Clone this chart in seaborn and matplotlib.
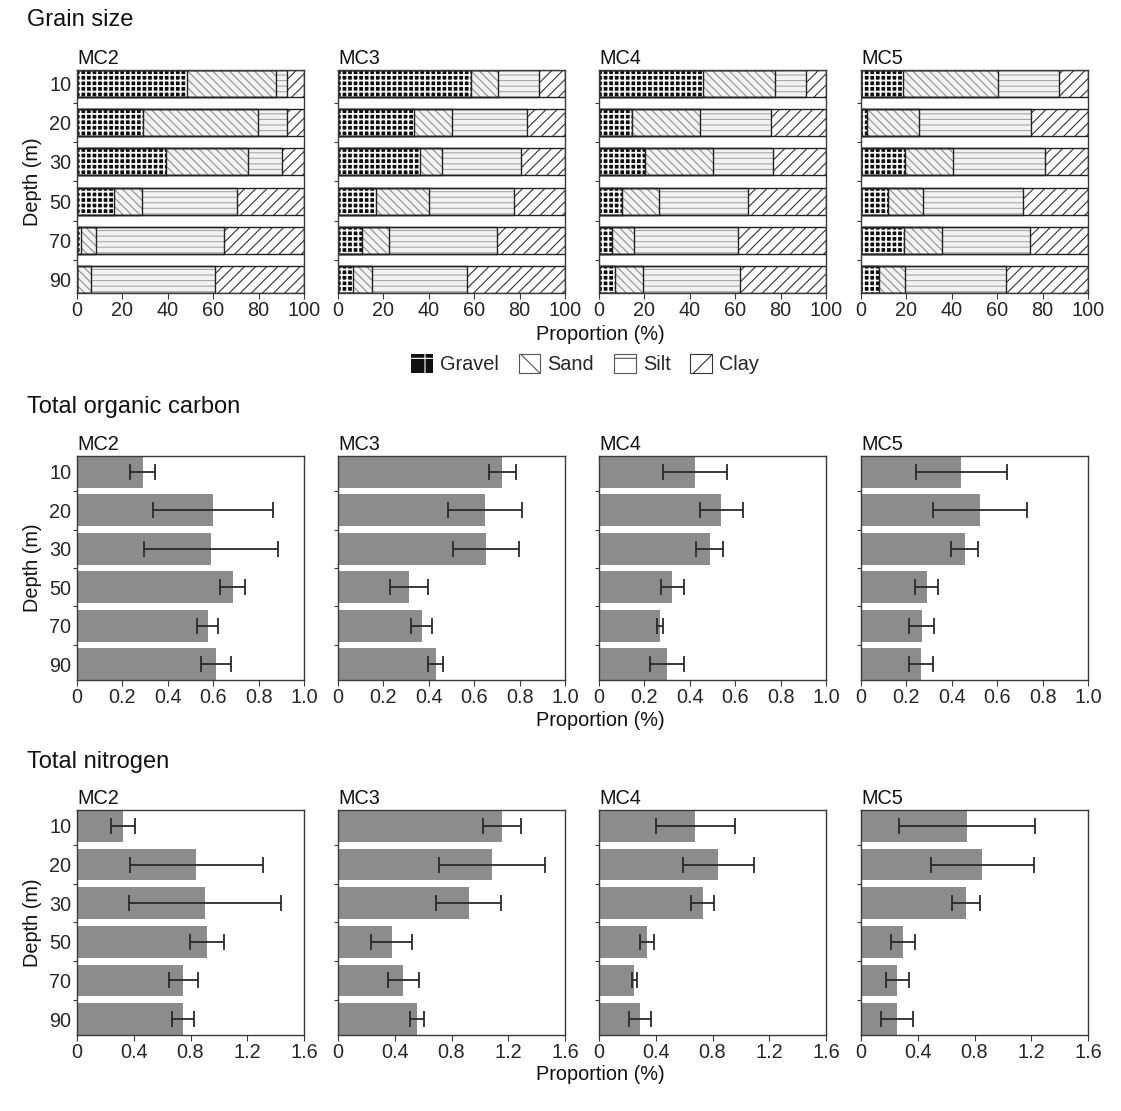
import numpy as np
import pandas as pd
import matplotlib
matplotlib.use("Agg")
import matplotlib.pyplot as plt
import seaborn as sns
from matplotlib.patches import Patch
from matplotlib.ticker import FixedLocator

sns.set_theme(style="ticks")
plt.rcParams["font.family"] = ["Liberation Sans", "DejaVu Sans"]
plt.rcParams["hatch.linewidth"] = 0.8

# ---------------- data ----------------
depths = ["10", "20", "30", "50", "70", "90"]
cores = ["MC2", "MC3", "MC4", "MC5"]

gravel_mc2 = [48.5, 29.0, 39.3, 16.2, 1.9, 0.0]
sand_mc2 = [39.0, 50.7, 36.0, 12.3, 6.3, 6.3]
silt_mc2 = [4.9, 12.7, 15.2, 41.8, 56.5, 54.4]
clay_mc2 = [7.6, 7.6, 9.5, 29.7, 35.3, 39.3]

gravel_mc3 = [58.6, 33.4, 36.3, 16.9, 10.7, 6.8]
sand_mc3 = [11.8, 16.8, 9.4, 23.2, 11.9, 8.1]
silt_mc3 = [18.3, 33.2, 34.8, 37.6, 47.4, 41.8]
clay_mc3 = [11.3, 16.6, 19.5, 22.3, 30.0, 43.3]

gravel_mc4 = [45.7, 14.5, 20.4, 10.1, 5.6, 7.2]
sand_mc4 = [31.9, 29.9, 29.7, 16.5, 9.8, 12.3]
silt_mc4 = [13.7, 31.4, 26.6, 39.2, 45.9, 42.8]
clay_mc4 = [8.7, 24.2, 23.3, 34.2, 38.7, 37.7]

gravel_mc5 = [18.6, 2.8, 19.4, 11.9, 18.9, 7.9]
sand_mc5 = [41.6, 22.8, 21.0, 15.3, 16.9, 11.6]
silt_mc5 = [26.9, 49.4, 40.5, 44.0, 38.6, 44.4]
clay_mc5 = [12.9, 25.0, 19.1, 28.8, 25.6, 36.1]

toc_mc2 = [0.29, 0.60, 0.59, 0.686, 0.575, 0.612]
toc_err_mc2 = [0.055, 0.265, 0.297, 0.055, 0.048, 0.066]
toc_mc3 = [0.723, 0.647, 0.653, 0.313, 0.369, 0.430]
toc_err_mc3 = [0.059, 0.164, 0.146, 0.084, 0.047, 0.032]
toc_mc4 = [0.424, 0.538, 0.487, 0.323, 0.268, 0.300]
toc_err_mc4 = [0.140, 0.095, 0.060, 0.050, 0.012, 0.075]
toc_mc5 = [0.442, 0.524, 0.456, 0.290, 0.268, 0.265]
toc_err_mc5 = [0.200, 0.207, 0.059, 0.050, 0.055, 0.054]

tn_mc2 = [0.324, 0.841, 0.905, 0.914, 0.750, 0.750]
tn_err_mc2 = [0.086, 0.467, 0.535, 0.121, 0.104, 0.077]
tn_mc3 = [1.158, 1.085, 0.921, 0.378, 0.461, 0.557]
tn_err_mc3 = [0.133, 0.375, 0.228, 0.144, 0.108, 0.047]
tn_mc4 = [0.68, 0.84, 0.73, 0.34, 0.25, 0.29]
tn_err_mc4 = [0.28, 0.25, 0.08, 0.05, 0.02, 0.08]
tn_mc5 = [0.746, 0.856, 0.739, 0.294, 0.256, 0.256]
tn_err_mc5 = [0.480, 0.360, 0.097, 0.086, 0.080, 0.114]

grain = {
    "MC2": (gravel_mc2, sand_mc2, silt_mc2, clay_mc2),
    "MC3": (gravel_mc3, sand_mc3, silt_mc3, clay_mc3),
    "MC4": (gravel_mc4, sand_mc4, silt_mc4, clay_mc4),
    "MC5": (gravel_mc5, sand_mc5, silt_mc5, clay_mc5),
}
toc = {"MC2": (toc_mc2, toc_err_mc2), "MC3": (toc_mc3, toc_err_mc3),
       "MC4": (toc_mc4, toc_err_mc4), "MC5": (toc_mc5, toc_err_mc5)}
tn = {"MC2": (tn_mc2, tn_err_mc2), "MC3": (tn_mc3, tn_err_mc3),
      "MC4": (tn_mc4, tn_err_mc4), "MC5": (tn_mc5, tn_err_mc5)}

# ---------------- layout ----------------
W, H = 1121, 1111
fig = plt.figure(figsize=(W / 100, H / 100), dpi=100)
fig.patch.set_facecolor("white")

lefts_px = [77, 338, 599, 861]
width_px = 227
rows_px = {"grain": (70, 293), "toc": (456, 680), "tn": (810, 1035)}

FS = 14.3
SPINE = "#3a3a3a"
BAR_GREY = "#8c8c8c"


def make_ax(i, key):
    top, bot = rows_px[key]
    return fig.add_axes([lefts_px[i] / W, 1 - bot / H, width_px / W, (bot - top) / H])


def style_ax(ax, i, xticks, xticklabels, width):
    ax.set_ylim(5 + width / 2, -width / 2)
    ax.set_yticks(range(6))
    ax.yaxis.set_minor_locator(FixedLocator([0.5, 1.5, 2.5, 3.5, 4.5]))
    ax.tick_params(axis="y", which="major", length=0, labelsize=FS, pad=4,
                   labelleft=(i == 0))
    ax.tick_params(axis="y", which="minor", length=3, width=0.8, color=SPINE, direction="out")
    ax.set_xticks(xticks)
    ax.set_xticklabels(xticklabels)
    ax.tick_params(axis="x", which="major", length=4, width=0.8, color=SPINE,
                   labelsize=FS, pad=2, direction="out")
    ax.set_xlabel("")
    ax.set_ylabel("")
    for s in ax.spines.values():
        s.set_color(SPINE)
        s.set_linewidth(1.0)
    ax.set_title(cores[i], loc="left", fontsize=FS, pad=4, color="#111111")


# ---------------- grain size ----------------
GW = 0.69
styles = [
    # (face, hatch colour, hatch, hatch linewidth)
    ("#0d0d0d", "white", "+++", 1.3),        # gravel
    ("#f2f2f2", "#8f8f8f", "\\\\\\\\", 0.8),  # sand
    ("#f2f2f2", "#a8a8a8", "---", 0.8),      # silt
    ("white", "#333333", "///", 0.8),        # clay
]

for i, core in enumerate(cores):
    ax = make_ax(i, "grain")
    g, s, si, c = grain[core]
    df = pd.DataFrame({"depth": depths, "gravel": g, "sand": s, "silt": si, "clay": c})
    df["cum_gravel"] = df["gravel"]
    df["cum_sand"] = df["cum_gravel"] + df["sand"]
    df["cum_silt"] = df["cum_sand"] + df["silt"]
    df["cum_clay"] = df["cum_silt"] + df["clay"]
    layers = ["cum_clay", "cum_silt", "cum_sand", "cum_gravel"]
    layer_styles = [styles[3], styles[2], styles[1], styles[0]]
    for col, (face, hcol, hatch, hlw) in zip(layers, layer_styles):
        n_before = len(ax.patches)
        sns.barplot(data=df, x=col, y="depth", orient="h", order=depths, ax=ax,
                    width=GW, color=face, saturation=1, errorbar=None,
                    edgecolor=hcol, linewidth=0, hatch=hatch)
        for p in ax.patches[n_before:]:
            if hasattr(p, "set_hatch_linewidth"):
                p.set_hatch_linewidth(hlw)
    for col in layers:
        sns.barplot(data=df, x=col, y="depth", orient="h", order=depths, ax=ax,
                    width=GW, color="#222222", fill=False, saturation=1,
                    errorbar=None, linewidth=1.0)
    ax.set_xlim(0, 100)
    style_ax(ax, i, [0, 20, 40, 60, 80, 100], ["0", "20", "40", "60", "80", "100"], GW)


# ---------------- TOC & TN ----------------
BW = 0.82


def bar_panel(key, data, xmax, xticks, xticklabels):
    for i, core in enumerate(cores):
        ax = make_ax(i, key)
        vals, errs = data[core]
        df = pd.DataFrame({"depth": depths, "value": vals, "err": errs})
        sns.barplot(data=df, x="value", y="depth", orient="h", order=depths, ax=ax,
                    width=BW, color=BAR_GREY, saturation=1, errorbar=None, linewidth=0)
        ax.errorbar(df["value"], np.arange(len(depths)), xerr=df["err"], fmt="none",
                    ecolor="#2a2a2a", elinewidth=1.3, capsize=5.5, capthick=1.3)
        ax.set_xlim(0, xmax)
        style_ax(ax, i, xticks, xticklabels, BW)


bar_panel("toc", toc, 1.0, [0, 0.2, 0.4, 0.6, 0.8, 1.0],
          ["0", "0.2", "0.4", "0.6", "0.8", "1.0"])
bar_panel("tn", tn, 1.6, [0, 0.4, 0.8, 1.2, 1.6],
          ["0", "0.4", "0.8", "1.2", "1.6"])

# ---------------- texts ----------------
for title, y in [("Grain size", 20), ("Total organic carbon", 407), ("Total nitrogen", 762)]:
    fig.text(27 / W, 1 - y / H, title, fontsize=17, va="center", ha="left", color="#111111")

for y in [335, 720, 1075]:
    fig.text(600 / W, 1 - y / H, "Proportion (%)", fontsize=FS, ha="center", va="center",
             color="#111111")

for key in ["grain", "toc", "tn"]:
    top, bot = rows_px[key]
    fig.text(32 / W, 1 - (top + bot) / 2 / H, "Depth (m)", fontsize=FS, rotation=90,
             ha="center", va="center", color="#111111")

handles = [
    Patch(facecolor="#111111", edgecolor="white", hatch="+", linewidth=0),
    Patch(facecolor="white", edgecolor="#555555", hatch="\\", linewidth=0.8),
    Patch(facecolor="white", edgecolor="#555555", hatch="-", linewidth=0.8),
    Patch(facecolor="white", edgecolor="#333333", hatch="/", linewidth=0.8),
]
fig.legend(handles, ["Gravel", "Sand", "Silt", "Clay"], loc="center",
           bbox_to_anchor=(585 / W, 1 - 364 / H), ncol=4, frameon=False,
           fontsize=FS, handlelength=1.1, handleheight=1.1, handletextpad=0.35,
           columnspacing=1.0)

fig.savefig("out.png", dpi=100, facecolor="white")
